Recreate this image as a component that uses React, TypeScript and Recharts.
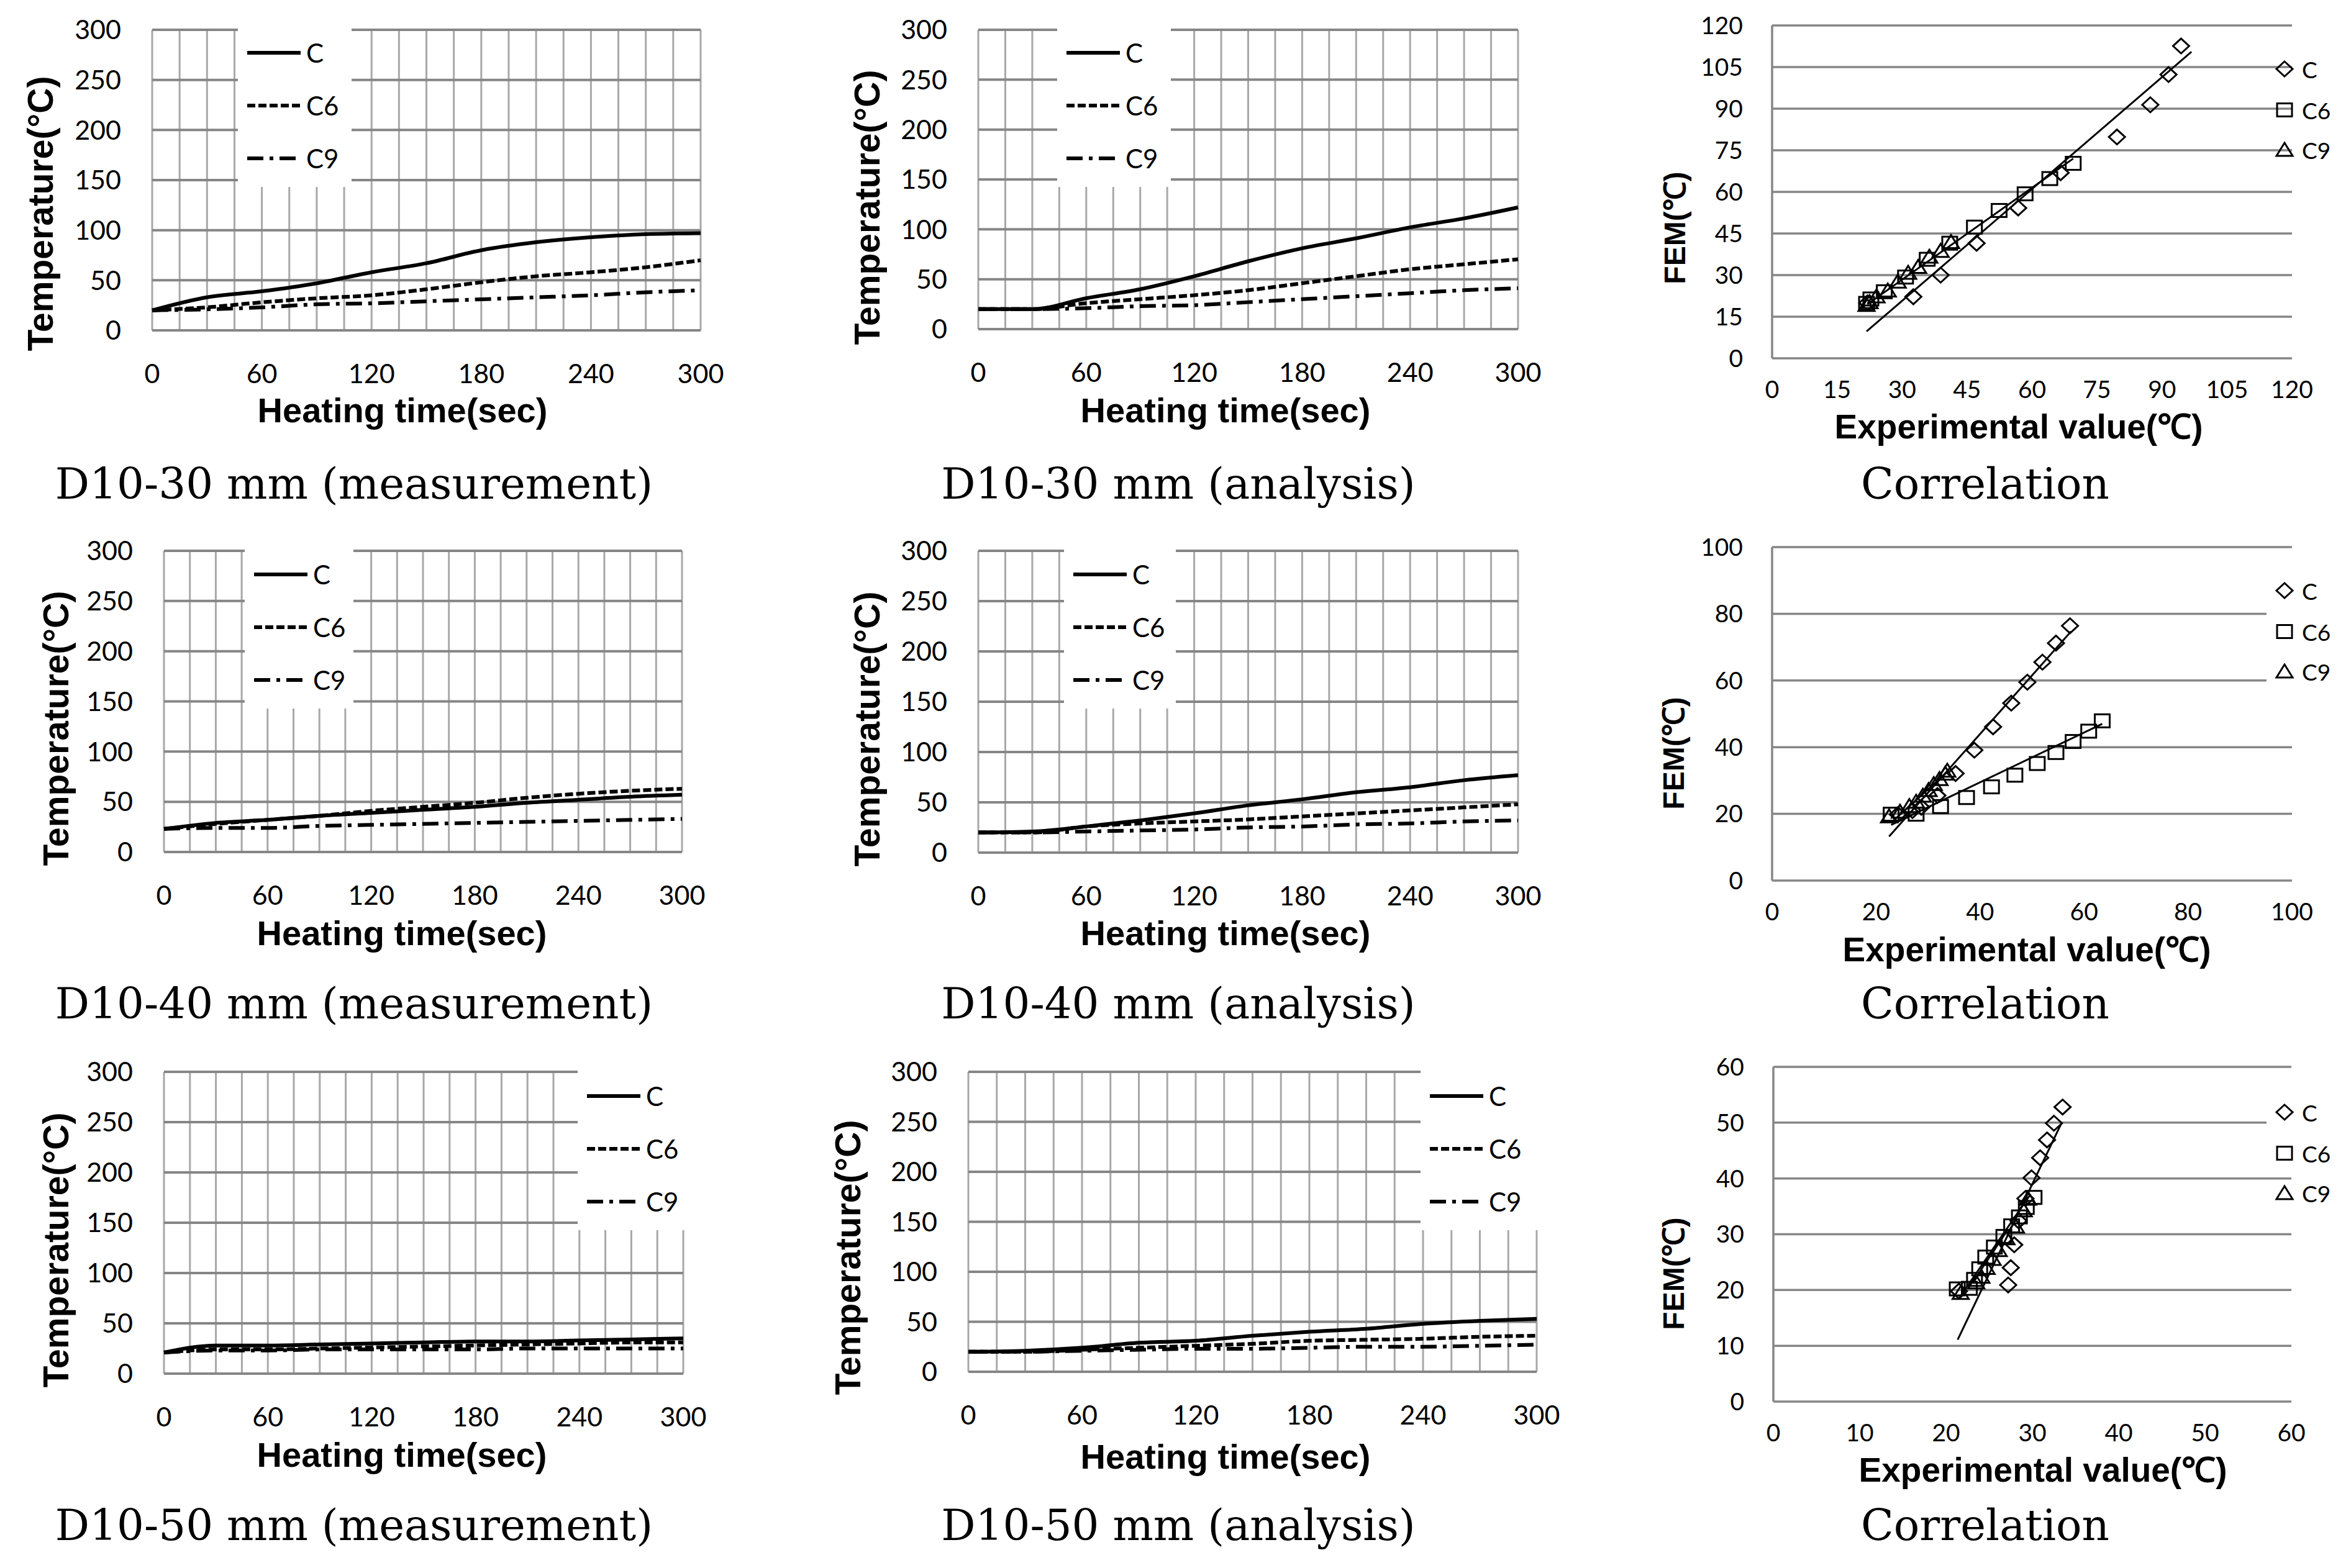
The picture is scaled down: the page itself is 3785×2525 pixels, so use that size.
import React from "react";
import { LineChart, Line, XAxis, YAxis, CartesianGrid, ScatterChart, Scatter } from "recharts";

// heating time (sec), one reading every 30 s
const TIME = [0, 30, 60, 90, 120, 150, 180, 210, 240, 270, 300];
const TIME_GRID = [0, 15, 30, 45, 60, 75, 90, 105, 120, 135, 150, 165, 180, 195, 210, 225, 240, 255, 270, 285, 300];
const TIME_LABELS = [0, 60, 120, 180, 240, 300];
const TEMP_TICKS = [0, 50, 100, 150, 200, 250, 300];
const SERIES = ["C", "C6", "C9"];

// D10-30 mm
const D30_MEAS_C = [20, 33, 39, 47, 58, 67, 80, 88, 93, 96, 97];
const D30_MEAS_C6 = [20, 23, 28, 32, 35, 41, 48, 54, 58, 63, 70];
const D30_MEAS_C9 = [20, 21, 23, 26, 27, 29, 31, 33, 35, 38, 40];
const D30_ANAL_C = [20, 20, 31, 40, 53, 68, 81, 91, 102, 111, 122];
const D30_ANAL_C6 = [20, 20, 26, 30, 34, 39, 46, 53, 60, 65, 70];
const D30_ANAL_C9 = [20, 20, 21, 23, 24, 27, 30, 33, 36, 39, 41];

// D10-40 mm
const D40_MEAS_C = [23, 29, 32, 36, 39, 42, 45, 49, 52, 55, 57];
const D40_MEAS_C6 = [23, 28, 32, 36, 41, 45, 49, 54, 58, 61, 63];
const D40_MEAS_C9 = [23, 24, 24, 26, 27, 28, 29, 30, 31, 32, 33];
const D40_ANAL_C = [20, 21, 26, 32, 39, 47, 53, 60, 65, 72, 77];
const D40_ANAL_C6 = [20, 20, 26, 29, 31, 33, 36, 39, 42, 45, 48];
const D40_ANAL_C9 = [20, 20, 21, 22, 23, 25, 26, 28, 29, 31, 32];

// D10-50 mm
const D50_MEAS_C = [21, 28, 28, 29, 30, 31, 32, 32, 33, 34, 35];
const D50_MEAS_C6 = [21, 24, 24, 25, 26, 27, 28, 29, 30, 31, 31];
const D50_MEAS_C9 = [21, 23, 23, 24, 24, 24, 24, 25, 25, 25, 25];
const D50_ANAL_C = [20, 21, 24, 29, 31, 36, 40, 43, 48, 51, 53];
const D50_ANAL_C6 = [20, 20, 22, 24, 26, 28, 31, 32, 33, 35, 36];
const D50_ANAL_C9 = [20, 20, 21, 22, 23, 23, 24, 25, 25, 26, 27];

// correlation: experimental (x) vs FEM (y)
const K30_TICKS = [0, 15, 30, 45, 60, 75, 90, 105, 120];
const K30_C_EXP = [22, 32.6, 38.9, 47.2, 56.8, 66.6, 79.6, 87.3, 91.5, 94.4];
const K30_C_FEM = [20, 22.2, 30, 41.5, 54.2, 66.9, 79.8, 91.4, 102.3, 112.6];
const K30_C6_EXP = [21.8, 22.8, 25.9, 30.8, 35.8, 41, 46.7, 52.4, 58.4, 64.1, 69.5];
const K30_C6_FEM = [19.8, 21.4, 24, 29.3, 35.7, 41.5, 47.3, 53.3, 59.3, 64.8, 70.3];
const K30_C9_EXP = [21.8, 22.5, 24.1, 26.7, 29, 31.4, 33.7, 36.3, 38.9, 41.3];
const K30_C9_FEM = [19.3, 20.3, 22.4, 24.5, 27.7, 30.9, 33, 36.7, 38.8, 42];
const K30_TREND_C = [[21.8, 9.7], [96.8, 110.5]];
const K30_TREND_C6 = [[22, 19.5], [69.5, 72]];

const K40_TICKS = [0, 20, 40, 60, 80, 100];
const K40_C_EXP = [24.2, 27, 28.7, 31.8, 35.3, 38.9, 42.5, 46, 49.1, 52, 54.6, 57.3];
const K40_C_FEM = [19.8, 21, 22, 25.5, 32.1, 39.1, 46.1, 53.2, 59.5, 65.5, 71.2, 76.4];
const K40_C6_EXP = [22.9, 27.7, 32.4, 37.4, 42.2, 46.7, 51, 54.6, 57.9, 60.9, 63.5];
const K40_C6_FEM = [19.9, 19.9, 22.2, 24.9, 28.1, 31.6, 35.1, 38.4, 41.7, 44.8, 47.9];
const K40_C9_EXP = [22.5, 24.6, 26.4, 27.7, 29, 30.1, 31.1, 32.2, 33.3, 33.7];
const K40_C9_FEM = [19.3, 20.7, 22.4, 23.7, 25.5, 27.2, 29, 30.5, 32.1, 33];
const K40_TREND_C = [[22.5, 13.2], [57.5, 74.7]];
const K40_TREND_C6 = [[22.9, 16.7], [63.5, 47]];
const K40_TREND_C9 = [[23, 17.5], [34, 33]];

const K50_TICKS = [0, 10, 20, 30, 40, 50, 60];
const K50_C_EXP = [21.5, 27.2, 27.5, 27.9, 28.4, 29.2, 29.9, 30.9, 31.7, 32.5, 33.5];
const K50_C_FEM = [19.8, 20.9, 24, 28.1, 32.4, 36.4, 40.1, 43.7, 46.9, 49.9, 52.8];
const K50_C6_EXP = [21.3, 22.7, 23.3, 23.9, 24.6, 25.6, 26.7, 27.6, 28.5, 29.3, 30.2];
const K50_C6_FEM = [20.2, 20.3, 21.9, 23.8, 25.9, 27.7, 29.6, 31.5, 33.1, 34.8, 36.6];
const K50_C9_EXP = [21.7, 23.5, 24.1, 24.7, 25.4, 26.1, 27, 28.1, 29, 29.5];
const K50_C9_FEM = [19.5, 21.4, 22.4, 24, 25.6, 27.2, 29.3, 31.4, 34.3, 36.4];
const K50_TREND_C = [[21.35, 11.1], [33.4, 50]];
const K50_TREND_C6 = [[21.5, 18.5], [29.8, 37.2]];

const TICK_FONT = "Lato, Carlito, sans-serif";
const BOLD_FONT = "Liberation Sans, Arial, sans-serif";
const DASH = ["", "13 5", "26 10 6 10"];
const GRID_H = "#868686";
const GRID_V = "#a8a8a8";

type LineCfg = {
  x: number; y: number; l: number; r: number; t: number; b: number;
  ytx: number; yty: number; xtx: number; xty: number; lgx: number; lgw: number;
};

const W = 1300;
const H = 720;

function TempPanel({ cfg, c, c6, c9 }: { cfg: LineCfg; c: number[]; c6: number[]; c9: number[] }) {
  const data = TIME.map((t, i) => ({ t, C: c[i], C6: c6[i], C9: c9[i] }));
  const tick = { fill: "#000", fontSize: 43, fontFamily: TICK_FONT };
  return (
    <div style={{ position: "absolute", left: cfg.x, top: cfg.y, width: W, height: H }}>
      <LineChart width={W} height={H} data={data} margin={{ top: cfg.t, right: W - cfg.r, bottom: 0, left: 0 }}>
        <CartesianGrid horizontal={false} stroke={GRID_V} strokeWidth={3} />
        <CartesianGrid vertical={false} stroke={GRID_H} strokeWidth={4} />
        <XAxis
          dataKey="t"
          type="number"
          domain={[0, 300]}
          ticks={TIME_GRID}
          interval={0}
          height={H - cfg.b}
          axisLine={false}
          tickLine={false}
          tickSize={0}
          tickMargin={54}
          tick={tick}
          tickFormatter={(v) => (TIME_LABELS.includes(v) ? String(v) : "")}
        />
        <YAxis
          type="number"
          domain={[0, 300]}
          ticks={TEMP_TICKS}
          interval={0}
          width={cfg.l}
          axisLine={false}
          tickLine={false}
          tickSize={0}
          tickMargin={50}
          tick={tick}
        />
        {SERIES.map((s, i) => (
          <Line
            key={s}
            type="monotone"
            dataKey={s}
            stroke="#000"
            strokeWidth={6}
            strokeDasharray={DASH[i] || undefined}
            dot={false}
            isAnimationActive={false}
          />
        ))}
      </LineChart>

      {/* legend box sits over the grid, like the original */}
      <div
        style={{
          position: "absolute",
          left: cfg.lgx,
          top: cfg.t - 4,
          width: cfg.lgw,
          height: 305 - cfg.t,
          background: "#fff",
        }}
      >
        {SERIES.map((s, i) => (
          <div
            key={s}
            style={{
              position: "absolute",
              left: 15,
              top: 85 + i * 85 - (cfg.t - 4) - 25,
              height: 50,
              display: "flex",
              alignItems: "center",
              gap: 9,
              fontFamily: TICK_FONT,
              fontSize: 42,
            }}
          >
            <svg width={86} height={10}>
              <line x1={0} y1={5} x2={86} y2={5} stroke="#000" strokeWidth={6} strokeDasharray={DASH[i] || undefined} />
            </svg>
            <span>{s}</span>
          </div>
        ))}
      </div>

      <div
        style={{
          position: "absolute",
          left: cfg.ytx,
          top: cfg.yty,
          transform: "translate(-50%, -50%) rotate(-90deg)",
          fontFamily: BOLD_FONT,
          fontWeight: 700,
          fontSize: 57,
          lineHeight: 1,
          whiteSpace: "nowrap",
        }}
      >
        Temperature(°C)
      </div>
      <div
        style={{
          position: "absolute",
          left: cfg.xtx,
          top: cfg.xty,
          transform: "translate(-50%, -50%)",
          fontFamily: BOLD_FONT,
          fontWeight: 700,
          fontSize: 56,
          lineHeight: 1,
          whiteSpace: "nowrap",
        }}
      >
        Heating time(sec)
      </div>
    </div>
  );
}

function Diamond(p: any) {
  const { cx, cy } = p;
  return <path d={`M${cx},${cy - 12}L${cx + 13},${cy}L${cx},${cy + 12}L${cx - 13},${cy}Z`} fill="none" stroke="#000" strokeWidth={3} />;
}
function Square(p: any) {
  const { cx, cy } = p;
  return <rect x={cx - 12} y={cy - 10.5} width={24} height={21} fill="none" stroke="#000" strokeWidth={3} />;
}
function Triangle(p: any) {
  const { cx, cy } = p;
  return <path d={`M${cx},${cy - 11}L${cx + 13},${cy + 10}L${cx - 13},${cy + 10}Z`} fill="none" stroke="#000" strokeWidth={3} />;
}
const SHAPES = [Diamond, Square, Triangle];
const NoDot = () => <g />;

type CorrCfg = {
  x: number; y: number; l: number; r: number; t: number; b: number;
  ytx: number; yty: number; xtx: number; xty: number; bg: null | { top: number; height: number };
};

const SW = 1135;
const SH = 740;

const pts = (xs: number[], ys: number[]) => xs.map((x, i) => ({ x, y: ys[i] }));
const seg = (s: number[][]) => s.map(([x, y]) => ({ x, y }));

function CorrPanel({
  cfg, ticks, exp, fem, trends,
}: { cfg: CorrCfg; ticks: number[]; exp: number[][]; fem: number[][]; trends: number[][][] }) {
  const max = ticks[ticks.length - 1];
  const tick = { fill: "#000", fontSize: 39, fontFamily: TICK_FONT };
  return (
    <div style={{ position: "absolute", left: cfg.x, top: cfg.y, width: SW, height: SH }}>
      <ScatterChart width={SW} height={SH} margin={{ top: cfg.t, right: SW - cfg.r, bottom: 0, left: 0 }}>
        <CartesianGrid vertical={false} stroke={GRID_H} strokeWidth={3.5} />
        <XAxis
          dataKey="x"
          type="number"
          domain={[0, max]}
          ticks={ticks}
          interval={0}
          height={SH - cfg.b}
          axisLine={false}
          tickLine={false}
          tickSize={0}
          tickMargin={36}
          tick={tick}
        />
        <YAxis
          dataKey="y"
          type="number"
          domain={[0, max]}
          ticks={ticks}
          interval={0}
          width={cfg.l}
          axisLine={{ stroke: GRID_H, strokeWidth: 3.5 }}
          tickLine={false}
          tickSize={0}
          tickMargin={47}
          tick={tick}
        />
        {trends.map((t, i) => (
          <Scatter
            key={"t" + i}
            data={seg(t)}
            line={{ stroke: "#000", strokeWidth: 3 }}
            shape={NoDot}
            isAnimationActive={false}
          />
        ))}
        {SERIES.map((s, i) => (
          <Scatter key={s} name={s} data={pts(exp[i], fem[i])} shape={SHAPES[i]} isAnimationActive={false} />
        ))}
      </ScatterChart>

      {cfg.bg ? (
        <div style={{ position: "absolute", left: 999, top: cfg.bg.top, width: SW - 999, height: cfg.bg.height, background: "#fff" }} />
      ) : null}
      {SERIES.map((s, i) => {
        const Shape = SHAPES[i];
        const rowY = [111, 177, 241][i];
        return (
          <div
            key={s}
            style={{
              position: "absolute",
              left: 1012,
              top: rowY - 22,
              height: 44,
              display: "flex",
              alignItems: "center",
              gap: 12,
              fontFamily: TICK_FONT,
              fontSize: 37,
            }}
          >
            <svg width={32} height={30}>
              <Shape cx={16} cy={15} />
            </svg>
            <span>{s}</span>
          </div>
        );
      })}

      <div
        style={{
          position: "absolute",
          left: cfg.ytx,
          top: cfg.yty,
          transform: "translate(-50%, -50%) rotate(-90deg)",
          fontFamily: BOLD_FONT,
          fontWeight: 700,
          fontSize: 48,
          lineHeight: 1,
          whiteSpace: "nowrap",
        }}
      >
        FEM(℃)
      </div>
      <div
        style={{
          position: "absolute",
          left: cfg.xtx,
          top: cfg.xty,
          transform: "translate(-50%, -50%)",
          fontFamily: BOLD_FONT,
          fontWeight: 700,
          fontSize: 55,
          lineHeight: 1,
          whiteSpace: "nowrap",
        }}
      >
        Experimental value(℃)
      </div>
    </div>
  );
}

function Caption({ cx, cy, text }: { cx: number; cy: number; text: string }) {
  return (
    <div
      style={{
        position: "absolute",
        left: cx - 700,
        top: cy - 35,
        width: 1400,
        textAlign: "center",
        fontFamily: "DejaVu Serif, serif",
        fontSize: 69,
        lineHeight: "69px",
        whiteSpace: "nowrap",
      }}
    >
      {text}
    </div>
  );
}

const P1: LineCfg = { x: 0, y: 0, l: 245, r: 1128, t: 48, b: 532, ytx: 65, yty: 344, xtx: 648, xty: 661, lgx: 383, lgw: 183 };
const P2: LineCfg = { x: 1300, y: 0, l: 275, r: 1144, t: 48, b: 530, ytx: 96, yty: 334, xtx: 673, xty: 661, lgx: 402, lgw: 183 };
const P4: LineCfg = { x: 0, y: 840, l: 264, r: 1098, t: 47, b: 532, ytx: 90, yty: 333, xtx: 647, xty: 663, lgx: 394, lgw: 175 };
const P5: LineCfg = { x: 1300, y: 840, l: 275, r: 1144, t: 47, b: 533, ytx: 96, yty: 334, xtx: 673, xty: 663, lgx: 413, lgw: 180 };
const P7: LineCfg = { x: 0, y: 1680, l: 264, r: 1100, t: 46, b: 532, ytx: 90, yty: 333, xtx: 647, xty: 663, lgx: 930, lgw: 185 };
const P8: LineCfg = { x: 1300, y: 1680, l: 259, r: 1174, t: 46, b: 529, ytx: 65, yty: 345, xtx: 673, xty: 666, lgx: 987, lgw: 215 };

const S1: CorrCfg = { x: 2650, y: 0, l: 203, r: 1040, t: 41, b: 577, ytx: 47, yty: 367, xtx: 600, xty: 687, bg: null };
const S2: CorrCfg = { x: 2650, y: 840, l: 203, r: 1040, t: 41, b: 578, ytx: 45, yty: 373, xtx: 613, xty: 689, bg: { top: 90, height: 178 } };
const S3: CorrCfg = { x: 2650, y: 1680, l: 205, r: 1039, t: 38, b: 577, ytx: 45, yty: 371, xtx: 639, xty: 687, bg: { top: 90, height: 112 } };

export default function App() {
  return (
    <div
      style={{
        position: "absolute",
        left: 0,
        top: 0,
        width: 3785,
        height: 2525,
        background: "#fff",
        overflow: "hidden",
        color: "#000",
      }}
    >
      <TempPanel cfg={P1} c={D30_MEAS_C} c6={D30_MEAS_C6} c9={D30_MEAS_C9} />
      <TempPanel cfg={P2} c={D30_ANAL_C} c6={D30_ANAL_C6} c9={D30_ANAL_C9} />
      <CorrPanel
        cfg={S1}
        ticks={K30_TICKS}
        exp={[K30_C_EXP, K30_C6_EXP, K30_C9_EXP]}
        fem={[K30_C_FEM, K30_C6_FEM, K30_C9_FEM]}
        trends={[K30_TREND_C, K30_TREND_C6]}
      />

      <TempPanel cfg={P4} c={D40_MEAS_C} c6={D40_MEAS_C6} c9={D40_MEAS_C9} />
      <TempPanel cfg={P5} c={D40_ANAL_C} c6={D40_ANAL_C6} c9={D40_ANAL_C9} />
      <CorrPanel
        cfg={S2}
        ticks={K40_TICKS}
        exp={[K40_C_EXP, K40_C6_EXP, K40_C9_EXP]}
        fem={[K40_C_FEM, K40_C6_FEM, K40_C9_FEM]}
        trends={[K40_TREND_C, K40_TREND_C6, K40_TREND_C9]}
      />

      <TempPanel cfg={P7} c={D50_MEAS_C} c6={D50_MEAS_C6} c9={D50_MEAS_C9} />
      <TempPanel cfg={P8} c={D50_ANAL_C} c6={D50_ANAL_C6} c9={D50_ANAL_C9} />
      <CorrPanel
        cfg={S3}
        ticks={K50_TICKS}
        exp={[K50_C_EXP, K50_C6_EXP, K50_C9_EXP]}
        fem={[K50_C_FEM, K50_C6_FEM, K50_C9_FEM]}
        trends={[K50_TREND_C, K50_TREND_C6]}
      />

      <Caption cx={570} cy={780} text="D10-30 mm (measurement)" />
      <Caption cx={1897} cy={780} text="D10-30 mm (analysis)" />
      <Caption cx={3196} cy={780} text="Correlation" />
      <Caption cx={570} cy={1617} text="D10-40 mm (measurement)" />
      <Caption cx={1897} cy={1617} text="D10-40 mm (analysis)" />
      <Caption cx={3196} cy={1617} text="Correlation" />
      <Caption cx={570} cy={2457} text="D10-50 mm (measurement)" />
      <Caption cx={1897} cy={2457} text="D10-50 mm (analysis)" />
      <Caption cx={3196} cy={2457} text="Correlation" />
    </div>
  );
}
